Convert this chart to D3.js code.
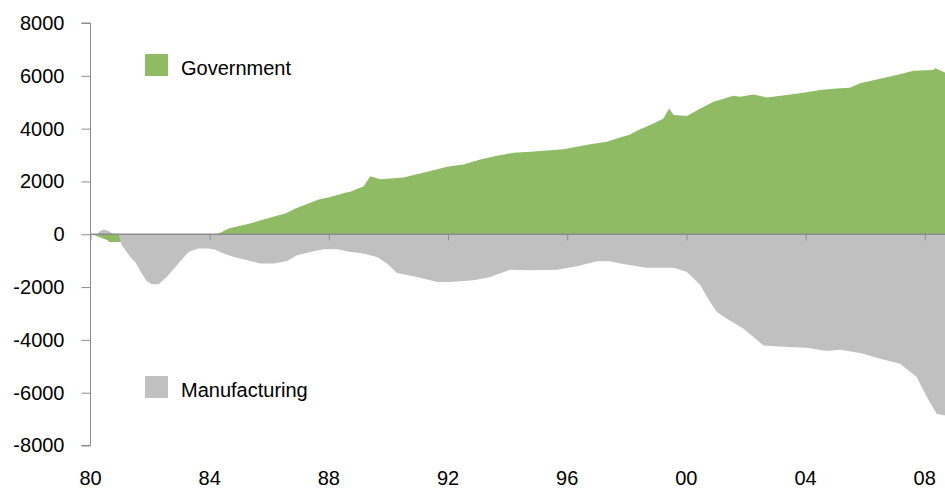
<!DOCTYPE html>
<html>
<head>
<meta charset="utf-8">
<script src="https://cdn.jsdelivr.net/npm/d3@7"></script>
<style>
  html, body { margin: 0; padding: 0; background: #fff; }
  svg { display: block; }
  text { font-family: "Liberation Sans", Arial, Helvetica, sans-serif; fill: #000; }
</style>
</head>
<body>
<svg id="chart" width="945" height="488"></svg>
<script>
// ---- data (decimal year, thousands of jobs, cumulative change) ----
const govYears = [1980.0, 1980.05, 1980.58, 1980.63, 1980.94, 1981.5, 1982.2, 1983.0, 1983.8, 1984.25,
  1984.64, 1985.42, 1986.1, 1986.54, 1986.88, 1987.66, 1988.05, 1988.55, 1988.72, 1989.17,
  1989.39, 1989.73, 1990.51, 1991.41, 1991.97, 1992.52, 1993.08, 1993.64, 1994.2, 1994.76,
  1995.88, 1996.77, 1997.33, 1997.78, 1998.11, 1998.34, 1998.9, 1999.23, 1999.42, 1999.57,
  2000.02, 2000.47, 2000.91, 2001.58, 2001.8, 2002.25, 2002.7, 2003.37, 2003.93, 2004.49,
  2005.05, 2005.49, 2005.83, 2006.39, 2007.06, 2007.62, 2008.29, 2008.35, 2008.68];
const govValues = [0, 0, -230, -290, -290, -300, -280, -220, -80, 0,
  216, 430, 657, 785, 973, 1314, 1415, 1567, 1605, 1820,
  2200, 2085, 2150, 2400, 2552, 2642, 2831, 2970, 3083, 3121,
  3223, 3412, 3500, 3666, 3780, 3918, 4197, 4387, 4765, 4512,
  4474, 4765, 5016, 5244, 5206, 5297, 5183, 5270, 5357, 5460,
  5524, 5547, 5714, 5865, 6028, 6192, 6218, 6282, 6130];

const mfgYears = [1980.0, 1980.22, 1980.34, 1980.44, 1980.54, 1980.66, 1980.77, 1980.94, 1981.05, 1981.22,
  1981.33, 1981.5, 1981.72, 1981.89, 1982.06, 1982.28, 1982.56, 1982.9, 1983.29, 1983.62,
  1983.96, 1984.14, 1984.47, 1984.81, 1985.37,
  1985.7, 1986.15, 1986.6, 1986.93, 1987.38, 1987.83, 1988.28, 1988.72, 1989.06, 1989.62,
  1989.95, 1990.29, 1990.96, 1991.63, 1992.08, 1992.86, 1993.42, 1994.09, 1994.76, 1995.66,
  1996.33, 1997.0, 1997.44, 1997.78, 1998.34, 1998.67, 1999.57, 2000.02, 2000.47, 2000.69,
  2001.02, 2001.36, 2001.92, 2002.25, 2002.59, 2003.37, 2004.04, 2004.71, 2005.16, 2005.83,
  2006.5, 2007.17, 2007.73, 2008.07, 2008.4, 2008.68];
const mfgValues = [0, 0, 130, 170, 150, 90, 0, 0, -417, -670,
  -860, -1049, -1491, -1783, -1896, -1896, -1618, -1175, -670, -544,
  -544, -569, -733, -860, -1011,
  -1112, -1112, -1011, -796, -670, -569, -569, -670, -708, -860,
  -1112, -1466, -1618, -1808, -1808, -1744, -1618, -1340, -1365, -1340,
  -1213, -1024, -1024, -1112, -1213, -1264, -1264, -1428, -1934, -2376,
  -2945, -3197, -3576, -3893, -4209, -4272, -4297, -4424, -4373, -4500,
  -4714, -4904, -5410, -6168, -6800, -6862];

const yTicks = [-8000, -6000, -4000, -2000, 0, 2000, 4000, 6000, 8000];
const xTicks = [1980, 1984, 1988, 1992, 1996, 2000, 2004, 2008];
const xTickLabels = ["80", "84", "88", "92", "96", "00", "04", "08"];
const seriesNames = ["Government", "Manufacturing"];
const seriesColors = ["#8ebb64", "#c0c0c0"];

// ---- layout ----
const svg = d3.select("#chart");
const x = d3.scaleLinear().domain([1980, 2008.68]).range([90.5, 945]);
const y = d3.scaleLinear().domain([-8000, 8000]).range([445.5, 23]);
const axisColor = "#8c8c8c";

const gov = govYears.map((t, i) => ({ t, v: govValues[i] }));
const mfg = mfgYears.map((t, i) => ({ t, v: mfgValues[i] }));

const area = d3.area().x(d => x(d.t)).y0(y(0)).y1(d => y(d.v)).curve(d3.curveLinear);

svg.append("path").datum(gov).attr("d", area).attr("fill", seriesColors[0]);
svg.append("path").datum(mfg).attr("d", area).attr("fill", seriesColors[1]);

// y axis
const yAxis = svg.append("g").attr("transform", "translate(90.5,0)")
  .call(d3.axisLeft(y).tickValues(yTicks).tickSize(9).tickPadding(17).tickFormat(d => String(d)));
yAxis.select(".domain").attr("stroke", axisColor).attr("d", `M-9,${y(8000)}H0V${y(-8000)}H-9`);
yAxis.selectAll(".tick line").attr("stroke", axisColor);
yAxis.selectAll(".tick text").attr("font-size", 20).attr("font-family", "Liberation Sans, Arial, sans-serif").attr("fill", "#000");

// zero line with ticks downward
const xAxis = svg.append("g").attr("transform", `translate(0,${y(0)})`)
  .call(d3.axisBottom(x).tickValues(xTicks).tickSize(6).tickFormat(""));
xAxis.select(".domain").attr("stroke", axisColor).attr("stroke-width", 1.5).attr("d", `M90.5,0H945`);
xAxis.selectAll(".tick line").attr("stroke", axisColor);

// x labels at bottom
svg.append("g").selectAll("text").data(xTicks).join("text")
  .attr("x", d => x(d)).attr("y", 485).attr("text-anchor", "middle")
  .attr("font-size", 20).text((d, i) => xTickLabels[i]);

// legend
const legendY = [54, 376];
seriesNames.forEach((name, i) => {
  svg.append("rect").attr("x", 145).attr("y", legendY[i]).attr("width", 23).attr("height", 22)
    .attr("fill", seriesColors[i]);
  svg.append("text").attr("x", 181).attr("y", legendY[i] + 21).attr("font-size", 20).text(name);
});
</script>
</body>
</html>
